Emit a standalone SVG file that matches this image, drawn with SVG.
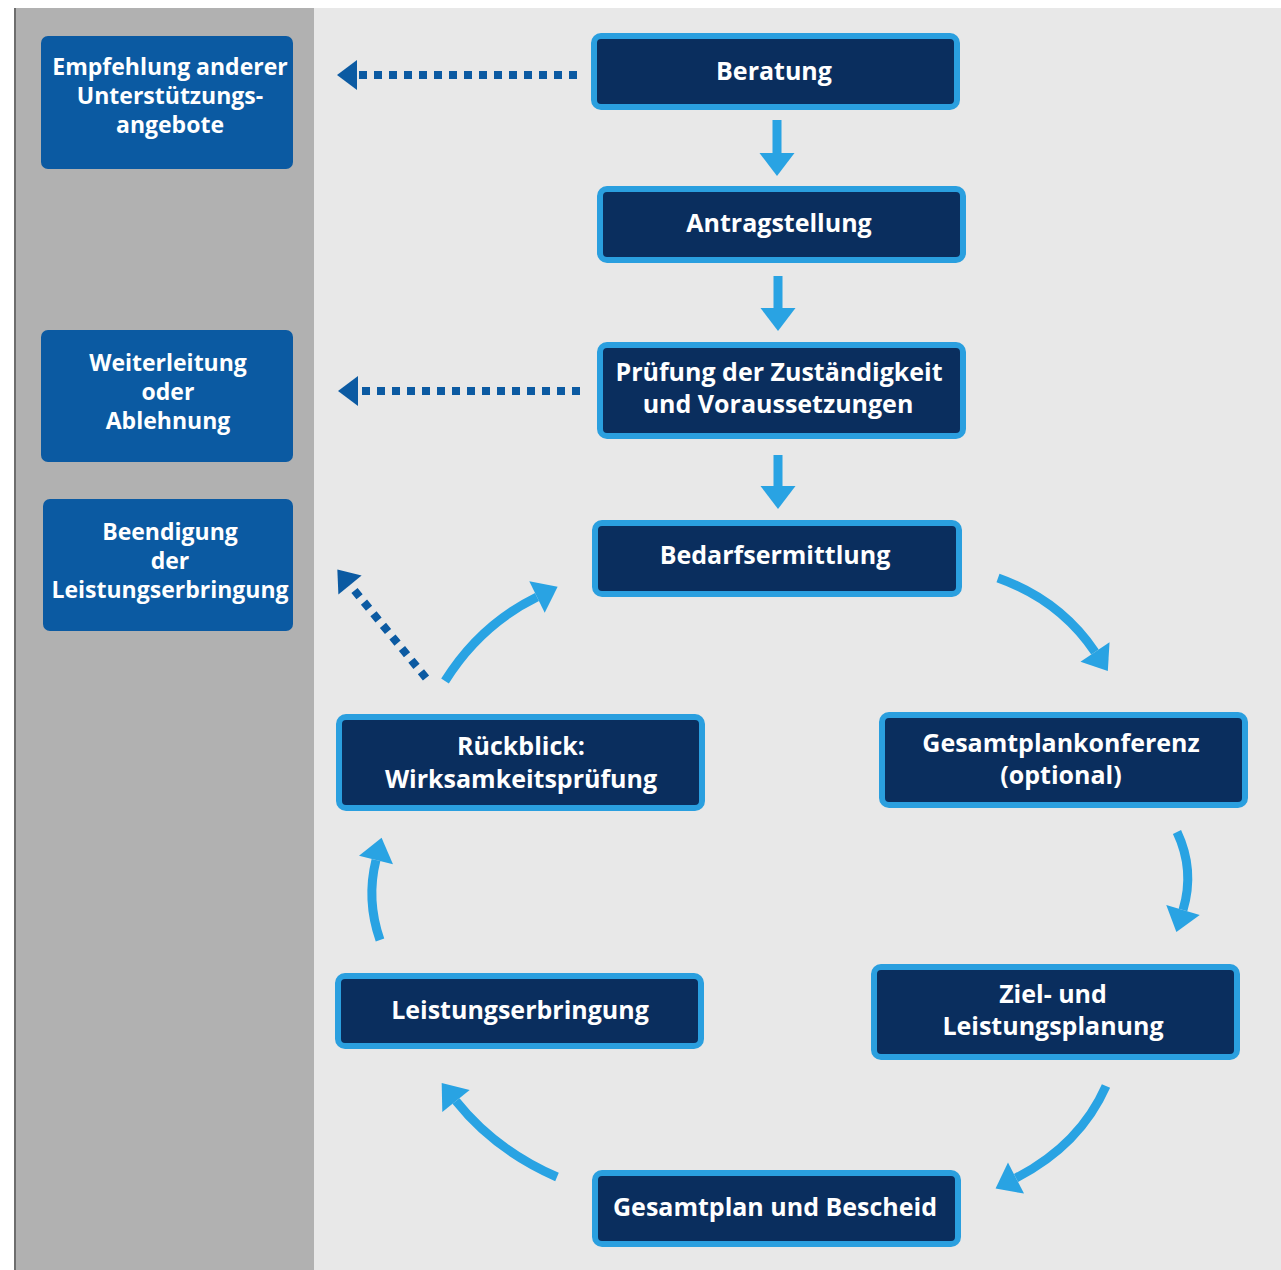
<svg xmlns="http://www.w3.org/2000/svg" width="1281" height="1270" viewBox="0 0 1281 1270">
<defs>
<style>
.bg{fill:#e8e8e8}
.side{fill:#b1b1b1}
.lbox{fill:#0b5aa2}
.mbox{fill:#0a2e5e;stroke:#2a9fdf;stroke-width:6}
.lt{font-family:"Open Sans","DejaVu Sans",sans-serif;font-weight:700;font-size:23px;fill:#ffffff;text-anchor:middle}
.mt{font-family:"Open Sans","DejaVu Sans",sans-serif;font-weight:700;font-size:25px;fill:#ffffff;text-anchor:middle}
.flow{fill:none;stroke:#29a3e3;stroke-width:9;marker-end:url(#ah)}
.dash{fill:none;stroke:#0b5aa2;stroke-width:8;stroke-dasharray:8 7;marker-end:url(#dh)}
</style>
<marker id="ah" markerUnits="userSpaceOnUse" viewBox="-1 -20 28 40" refX="0" refY="0" markerWidth="28" markerHeight="40" orient="auto" overflow="visible">
<path d="M0,-17.5 L23,0 L0,17.5 Z" fill="#29a3e3"/>
</marker>
<marker id="dh" markerUnits="userSpaceOnUse" viewBox="-1 -20 28 40" refX="0" refY="0" markerWidth="28" markerHeight="40" orient="auto" overflow="visible">
<path d="M0,-15 L20,0 L0,15 Z" fill="#0b5aa2"/>
</marker>
</defs>
<rect x="0" y="0" width="1281" height="1270" fill="#ffffff"/>
<rect class="bg" x="314" y="8" width="967" height="1262"/>
<rect class="side" x="16" y="8" width="298" height="1262"/>
<rect x="14" y="8" width="2" height="1262" fill="#6e6e6e"/>

<g id="connectors">
<path class="flow" d="M777,120 V153"/>
<path class="flow" d="M778,276 V308"/>
<path class="flow" d="M778,455 V486"/>
<path class="flow" d="M998,578 Q1060,600 1095,652"/>
<path class="flow" d="M1177,832 Q1195,870 1183,910"/>
<path class="flow" d="M1106,1086 Q1080,1145 1016,1178"/>
<path class="flow" d="M557,1177 Q495,1150 456,1101"/>
<path class="flow" d="M380,940 Q366,900 376,860"/>
<path class="flow" d="M445,681 Q480,625 537,597"/>
<path class="dash" d="M577,75 H357"/>
<path class="dash" d="M580,391 H358"/>
<path class="dash" d="M426,678 L350,585"/>
</g>

<g id="empfehlung">
<rect class="lbox" x="41" y="36" width="252" height="133" rx="7"/>
<text class="lt" x="170" y="75">Empfehlung anderer</text>
<text class="lt" x="170" y="104">Unterstützungs-</text>
<text class="lt" x="170" y="133">angebote</text>
</g>
<g id="weiterleitung">
<rect class="lbox" x="41" y="330" width="252" height="132" rx="7"/>
<text class="lt" x="168" y="371">Weiterleitung</text>
<text class="lt" x="168" y="400">oder</text>
<text class="lt" x="168" y="429">Ablehnung</text>
</g>
<g id="beendigung">
<rect class="lbox" x="43" y="499" width="250" height="132" rx="7"/>
<text class="lt" x="170" y="540">Beendigung</text>
<text class="lt" x="170" y="569">der</text>
<text class="lt" x="170" y="598">Leistungserbringung</text>
</g>

<g id="beratung">
<rect class="mbox" x="594" y="36" width="363" height="71" rx="7"/>
<text class="mt" x="774" y="80">Beratung</text>
</g>
<g id="antragstellung">
<rect class="mbox" x="600" y="189" width="363" height="71" rx="7"/>
<text class="mt" x="779" y="232">Antragstellung</text>
</g>
<g id="pruefung">
<rect class="mbox" x="600" y="345" width="363" height="91" rx="7"/>
<text class="mt" x="779" y="381">Prüfung der Zuständigkeit</text>
<text class="mt" x="778" y="413">und Voraussetzungen</text>
</g>
<g id="bedarfsermittlung">
<rect class="mbox" x="595" y="523" width="364" height="71" rx="7"/>
<text class="mt" x="775" y="564">Bedarfsermittlung</text>
</g>
<g id="gesamtplankonferenz">
<rect class="mbox" x="882" y="715" width="363" height="90" rx="7"/>
<text class="mt" x="1061" y="752">Gesamtplankonferenz</text>
<text class="mt" x="1061" y="784">(optional)</text>
</g>
<g id="zielplanung">
<rect class="mbox" x="874" y="967" width="363" height="90" rx="7"/>
<text class="mt" x="1053" y="1003">Ziel- und</text>
<text class="mt" x="1053" y="1035">Leistungsplanung</text>
</g>
<g id="gesamtplan">
<rect class="mbox" x="595" y="1173" width="363" height="71" rx="7"/>
<text class="mt" x="775" y="1216">Gesamtplan und Bescheid</text>
</g>
<g id="leistungserbringung">
<rect class="mbox" x="338" y="976" width="363" height="70" rx="7"/>
<text class="mt" x="520" y="1019">Leistungserbringung</text>
</g>
<g id="rueckblick">
<rect class="mbox" x="339" y="717" width="363" height="91" rx="7"/>
<text class="mt" x="521" y="755">Rückblick:</text>
<text class="mt" x="521" y="788">Wirksamkeitsprüfung</text>
</g>
</svg>
